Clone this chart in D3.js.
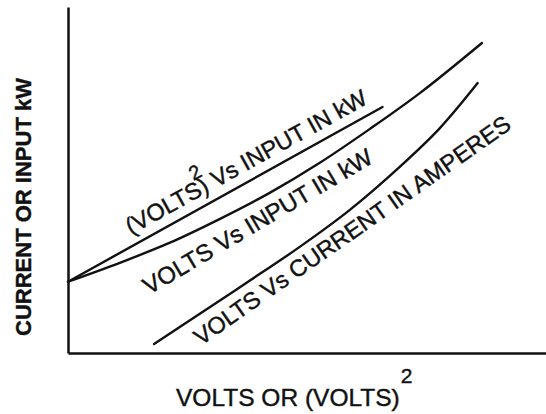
<!DOCTYPE html>
<html>
<head>
<meta charset="utf-8">
<script src="https://cdn.jsdelivr.net/npm/d3@7"></script>
<style>
  body { margin: 0; background: #fff; }
  svg { display: block; }
  text { font-family: "Liberation Sans", Arial, sans-serif; fill: #111; stroke: #111; stroke-width: 0.4px; }
</style>
</head>
<body>
<script>
// curve data (x: volts / volts^2, y: current or kW, 0-100 scale)
let squaredX = [0, 65.8]
let squaredY = [20.6, 71.1]

let voltsKwX = [0, 10.7, 21.2, 31.7, 42.1, 52.6, 63.1, 73.6, 86.6]
let voltsKwY = [20.6, 26.0, 31.8, 38.7, 46.2, 54.9, 64.7, 75.1, 89.6]

let ampsX = [18.0, 27.5, 37.9, 48.4, 58.9, 69.4, 77.8, 85.7]
let ampsY = [2.6, 11.3, 20.8, 30.6, 41.3, 53.8, 65.0, 78.0]

let w = 546
let h = 414

let svg = d3.select('body')
    .append('svg')
    .attr('width', w)
    .attr('height', h)

let x = d3.scaleLinear().domain([0, 100]).range([68, 546])
let y = d3.scaleLinear().domain([0, 100]).range([353, 7])

// axes, no ticks
svg.append('g')
    .attr('transform', 'translate(0,' + y(0) + ')')
    .call(d3.axisBottom(x).ticks(0).tickSizeOuter(0))
svg.append('g')
    .attr('transform', 'translate(' + x(0) + ',0)')
    .call(d3.axisLeft(y).ticks(0).tickSizeOuter(0))
svg.selectAll('.domain').attr('stroke', '#111').attr('stroke-width', 2.5)

let line = d3.line()
    .x(d => x(d[0]))
    .y(d => y(d[1]))
    .curve(d3.curveCatmullRom)

let series = [
    d3.zip(squaredX, squaredY),
    d3.zip(voltsKwX, voltsKwY),
    d3.zip(ampsX, ampsY)
]

svg.selectAll('path.curve')
    .data(series).enter().append('path')
        .attr('class', 'curve')
        .attr('d', line)
        .attr('fill', 'none')
        .attr('stroke', '#111')
        .attr('stroke-width', 2.4)
        .attr('stroke-linecap', 'round')

// curve labels
let lab1 = svg.append('text')
    .attr('transform', 'translate(131,235) rotate(-29)')
    .style('font-size', '23.5px')
lab1.append('tspan').text('(VOLTS)')
lab1.append('tspan').attr('dx', -10).attr('dy', -17).style('font-size', '20px').text('2')
lab1.append('tspan').attr('dx', -1).attr('dy', 17).text(' Vs INPUT IN kW')

svg.append('text')
    .attr('transform', 'translate(149,295) rotate(-30.5)')
    .style('font-size', '24px')
    .text('VOLTS Vs INPUT IN kW')

svg.append('text')
    .attr('transform', 'translate(201,346) rotate(-35)')
    .style('font-size', '23.5px')
    .text('VOLTS Vs CURRENT IN AMPERES')

// axis titles
svg.append('text')
    .attr('transform', 'translate(31,207) rotate(-90)')
    .attr('text-anchor', 'middle')
    .style('font-size', '22px')
    .style('font-weight', 'bold')
    .text('CURRENT OR INPUT kW')

let xt = svg.append('text')
    .attr('x', 176)
    .attr('y', 406)
    .style('font-size', '24.5px')
xt.append('tspan').text('VOLTS OR (VOLTS)')
xt.append('tspan').attr('dx', 1).attr('dy', -23).style('font-size', '21px').text('2')
</script>
</body>
</html>
